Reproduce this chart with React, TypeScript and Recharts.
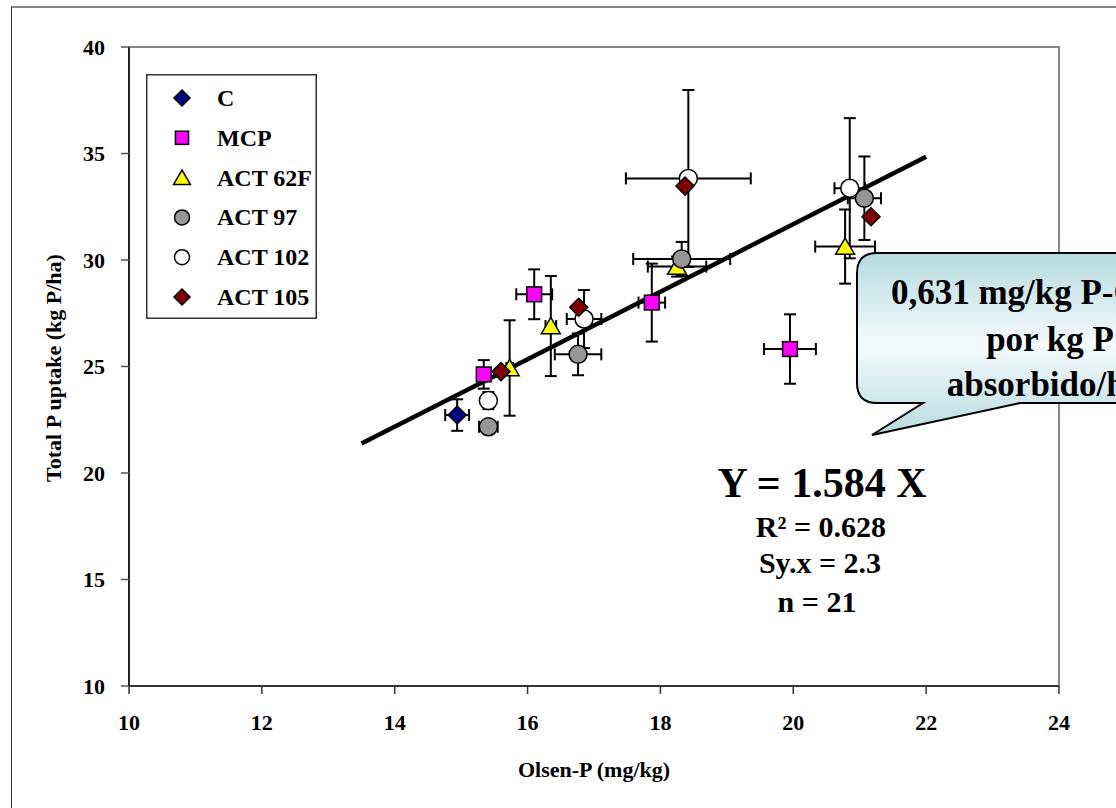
import { ErrorBar, Legend, ReferenceArea, Scatter, ScatterChart, XAxis, YAxis } from 'recharts';

const xTicks = [10, 12, 14, 16, 18, 20, 22, 24];
const yTicks = [10, 15, 20, 25, 30, 35, 40];

// Olsen-P (x), Total P uptake (y) and their standard errors, per treatment
const cX = [14.94];
const cY = [22.72];
const cEx = [0.18];
const cEy = [0.74];

const mcpX = [15.34, 16.1, 17.87, 19.95];
const mcpY = [24.63, 28.39, 28.0, 25.82];
const mcpEx = [0.1, 0.27, 0.2, 0.39];
const mcpEy = [0.67, 1.17, 1.83, 1.63];

const act62X = [15.73, 16.35, 18.25, 20.78];
const act62Y = [24.93, 26.9, 29.69, 30.63];
const act62Ex = [0.05, 0.08, 0.44, 0.45];
const act62Ey = [2.24, 2.35, 0.47, 1.74];

const act97X = [15.41, 16.76, 18.32, 21.07];
const act97Y = [22.17, 25.57, 30.05, 32.9];
const act97Ex = [0.14, 0.35, 0.73, 0.25];
const act97Ey = [0.3, 0.98, 0.8, 1.96];

const act102X = [15.41, 16.85, 18.42, 20.85];
const act102Y = [23.4, 27.23, 33.83, 33.37];
const act102Ex = [0.05, 0.26, 0.94, 0.23];
const act102Ey = [0.4, 1.36, 4.15, 3.29];

const act105X = [15.6, 16.77, 18.37, 21.17];
const act105Y = [24.76, 27.78, 33.47, 32.03];

// fitted line Y = 1.584 X, drawn from 13.5 to 22
const fitX = [13.5, 22];
const fitY = [21.38, 34.85];

const rows = (xs: number[], ys: number[], exs?: number[], eys?: number[]) =>
  xs.map((x, i) => ({ x, y: ys[i], ex: exs ? exs[i] : 0, ey: eys ? eys[i] : 0 }));

const FONT = '"Liberation Serif", "Times New Roman", serif';

type Marker = 'diamond' | 'square' | 'triangle' | 'circle';

const drawMarker = (kind: Marker, fill: string, cx: number, cy: number, s: number) => {
  if (kind === 'diamond') {
    return <polygon points={`${cx},${cy - s} ${cx + s},${cy} ${cx},${cy + s} ${cx - s},${cy}`} fill={fill} stroke="#000" strokeWidth={1.5} />;
  }
  if (kind === 'square') {
    const h = s * 0.82;
    return <rect x={cx - h} y={cy - h} width={h * 2} height={h * 2} fill={fill} stroke="#000" strokeWidth={1.5} />;
  }
  if (kind === 'triangle') {
    return <polygon points={`${cx},${cy - s * 0.95} ${cx + s * 1.05},${cy + s * 0.85} ${cx - s * 1.05},${cy + s * 0.85}`} fill={fill} stroke="#000" strokeWidth={1.5} />;
  }
  return <circle cx={cx} cy={cy} r={s} fill={fill} stroke="#000" strokeWidth={1.5} />;
};

const series = [
  { name: 'C', kind: 'diamond' as Marker, fill: '#000080', data: rows(cX, cY, cEx, cEy), bars: true },
  { name: 'MCP', kind: 'square' as Marker, fill: '#FF00FF', data: rows(mcpX, mcpY, mcpEx, mcpEy), bars: true },
  { name: 'ACT 62F', kind: 'triangle' as Marker, fill: '#FFFF00', data: rows(act62X, act62Y, act62Ex, act62Ey), bars: true },
  { name: 'ACT 97', kind: 'circle' as Marker, fill: '#969696', data: rows(act97X, act97Y, act97Ex, act97Ey), bars: true },
  { name: 'ACT 102', kind: 'circle' as Marker, fill: '#FFFFFF', data: rows(act102X, act102Y, act102Ex, act102Ey), bars: true },
  { name: 'ACT 105', kind: 'diamond' as Marker, fill: '#800000', data: rows(act105X, act105Y), bars: false },
];

const fitLine = fitX.map((x, i) => ({ x, y: fitY[i] }));

function LegendBox() {
  return (
    <svg width={171} height={245} style={{ display: 'block' }}>
      <rect x={0.75} y={0.75} width={169.5} height={243.5} fill="#fff" stroke="#333" strokeWidth={1.5} />
      {series.map((s, i) => {
        const cy = 24 + i * 39.8;
        return (
          <g key={s.name}>
            {drawMarker(s.kind, s.fill, 36, cy, s.kind === 'circle' ? 7.5 : 8)}
            <text x={71} y={cy + 8} fontFamily={FONT} fontWeight="bold" fontSize={24} fill="#000">
              {s.name}
            </text>
          </g>
        );
      })}
    </svg>
  );
}

function Overlay() {
  return (
    <svg width={1116} height={808} style={{ position: 'absolute', left: 0, top: 0, pointerEvents: 'none' }}>
      <defs>
        <linearGradient id="calloutFill" x1="0" y1="0" x2="0" y2="1">
          <stop offset="0%" stopColor="#B4DBE0" />
          <stop offset="50%" stopColor="#F6FBFC" />
          <stop offset="100%" stopColor="#B8DCE1" />
        </linearGradient>
      </defs>
      <text x={594} y={777} textAnchor="middle" fontFamily={FONT} fontWeight="bold" fontSize={22} fill="#000">
        Olsen-P (mg/kg)
      </text>
      <text x={61} y={368} transform="rotate(-90 61 368)" textAnchor="middle" fontFamily={FONT} fontWeight="bold" fontSize={22} fill="#000">
        Total P uptake (kg P/ha)
      </text>

      <path
        d="M 877 253 L 1320 253 L 1320 403 L 1020 403 L 872 435 L 923 403 L 877 403 Q 857 403 857 383 L 857 273 Q 857 253 877 253 Z"
        fill="url(#calloutFill)"
        stroke="#000"
        strokeWidth={2}
      />
      <g fontFamily={FONT} fontWeight="bold" fontSize={35} fill="#000" textAnchor="middle">
        <text x={1045} y={304}>0,631 mg/kg P-Olsen</text>
        <text x={1050} y={351}>por kg P</text>
        <text x={1045} y={396}>absorbido/ha</text>
      </g>

      <g fontFamily={FONT} fontWeight="bold" fill="#000" textAnchor="middle">
        <text x={822} y={497} fontSize={42}>Y = 1.584 X</text>
        <text x={821} y={537} fontSize={30}>R² = 0.628</text>
        <text x={820} y={573} fontSize={30}>Sy.x = 2.3</text>
        <text x={817} y={612} fontSize={30}>n = 21</text>
      </g>
    </svg>
  );
}

export default function App() {
  const tick = { fill: '#000', fontSize: 22, fontWeight: 'bold', fontFamily: FONT };
  return (
    <div style={{ position: 'fixed', left: 0, top: 0, width: 1116, height: 808, overflow: 'hidden', background: '#fff' }}>
      <div
        style={{
          position: 'absolute',
          left: 11,
          top: 6,
          width: 1300,
          height: 1000,
          borderLeft: '1.5px solid #333',
          borderTop: '2px solid #888',
        }}
      />
      <div style={{ position: 'absolute', left: 0, top: 0 }}>
        <ScatterChart width={1116} height={808} margin={{ top: 47, right: 57, bottom: 82, left: 69 }}>
          <ReferenceArea x1={10} x2={24} y1={10} y2={40} fill="none" stroke="#888" strokeWidth={2} />
          <XAxis
            type="number"
            dataKey="x"
            domain={[10, 24]}
            ticks={xTicks}
            allowDataOverflow
            height={40}
            tick={tick}
            tickSize={8}
            tickMargin={20}
            tickLine={{ stroke: '#333', strokeWidth: 1.5 }}
            axisLine={{ stroke: '#333', strokeWidth: 2 }}
          />
          <YAxis
            type="number"
            dataKey="y"
            domain={[10, 40]}
            ticks={yTicks}
            allowDataOverflow
            width={60}
            tick={tick}
            tickSize={8}
            tickMargin={16}
            tickLine={{ stroke: '#555', strokeWidth: 1.5 }}
            axisLine={{ stroke: '#000', strokeWidth: 1.5 }}
          />
          <Legend
            layout="vertical"
            align="center"
            verticalAlign="middle"
            wrapperStyle={{ left: 146, top: 74, width: 171, height: 245 }}
            content={() => <LegendBox />}
          />
          <Scatter
            name="fit"
            data={fitLine}
            line={{ stroke: '#000', strokeWidth: 4.5 }}
            shape={() => <g />}
            legendType="none"
            isAnimationActive={false}
          />
          {series.map(s => (
            <Scatter
              key={s.name}
              name={s.name}
              data={s.data}
              fill={s.fill}
              isAnimationActive={false}
              shape={(p: any) => drawMarker(s.kind, s.fill, p.cx, p.cy, 9)}
            >
              {s.bars && <ErrorBar dataKey="ey" direction="y" width={6} stroke="#000" strokeWidth={2} isAnimationActive={false} />}
              {s.bars && <ErrorBar dataKey="ex" direction="x" width={6} stroke="#000" strokeWidth={2} isAnimationActive={false} />}
            </Scatter>
          ))}
        </ScatterChart>
      </div>
      <Overlay />
    </div>
  );
}
